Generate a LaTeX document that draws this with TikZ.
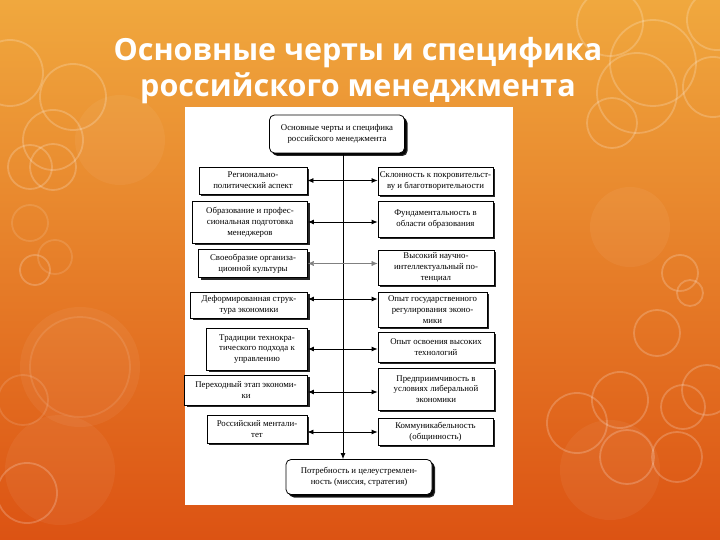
\documentclass[tikz,border=0pt]{standalone}
\usepackage{fontspec}
\setmainfont{Liberation Serif}
\newfontfamily\titlefont{Open Sans}
\usepackage{tikz}
\usetikzlibrary{shapes,arrows,arrows.meta,positioning,shadows}
\usepackage{xcolor}

\definecolor{slidetop}{HTML}{F0A83E}
\definecolor{slidemid}{HTML}{E8832A}
\definecolor{slidebot}{HTML}{DC5313}

\tikzset{
  itembox/.style={draw, thick, fill=white, align=center, inner sep=1pt,
    font=\fontsize{8.8}{10.8}\selectfont,
    drop shadow={shadow xshift=2pt, shadow yshift=-2pt, fill=black, opacity=0.85}},
  headbox/.style={itembox, rounded corners=5pt,
    drop shadow={shadow xshift=3pt, shadow yshift=-3pt, fill=black, opacity=0.85}},
  ring/.style={draw=white, line width=1.8pt, opacity=0.2},
  blob/.style={fill=white, opacity=0.05},
  link/.style={<->, >={Latex[length=6pt,width=5pt]}, thick}
}

\begin{document}
\begin{tikzpicture}[x=1pt, y=-1pt]
    % background slide
    \shade[top color=slidetop, middle color=slidemid, bottom color=slidebot] (0,0) rectangle (720,540);
    \useasboundingbox (0,0) rectangle (720,540);

    \fill[blob] (80,367) circle[radius=60pt];
    \fill[blob] (60,470) circle[radius=55pt];
    \fill[blob] (630,227) circle[radius=40pt];
    \fill[blob] (120,140) circle[radius=45pt];
    \fill[blob] (610,470) circle[radius=50pt];

    \draw[ring] (10,73) circle[radius=33pt];
    \draw[ring] (73,97) circle[radius=33pt];
    \draw[ring] (53,140) circle[radius=30pt];
    \draw[ring] (30,167) circle[radius=22pt];
    \draw[ring] (53,167) circle[radius=23pt];
    \draw[ring, opacity=0.12] (30,223) circle[radius=18pt];
    \draw[ring, opacity=0.12] (55,257) circle[radius=17pt];
    \draw[ring] (35,270) circle[radius=15pt];
    \draw[ring, opacity=0.1] (80,367) circle[radius=50pt];
    \draw[ring, opacity=0.12] (23,400) circle[radius=25pt];
    \draw[ring] (27,493) circle[radius=30pt];
    \draw[ring] (610,23) circle[radius=33pt];
    \draw[ring] (653,63) circle[radius=43pt];
    \draw[ring] (637,93) circle[radius=40pt];
    \draw[ring] (612,123) circle[radius=25pt];
    \draw[ring] (713,87) circle[radius=30pt];
    \draw[ring] (717,20) circle[radius=30pt];
    \draw[ring] (680,273) circle[radius=18pt];
    \draw[ring] (690,293) circle[radius=13pt];
    \draw[ring] (657,333) circle[radius=23pt];
    \draw[ring] (620,400) circle[radius=28pt];
    \draw[ring] (577,423) circle[radius=30pt];
    \draw[ring] (627,457) circle[radius=27pt];
    \draw[ring] (677,457) circle[radius=25pt];
    \draw[ring] (683,407) circle[radius=22pt];
    \draw[ring] (707,390) circle[radius=25pt];

    % slide title
    \node[text=white, font=\titlefont\bfseries\fontsize{30.5}{36}\selectfont, align=center] (title) at (358,71)
        {Основные черты и специфика\\российского менеджмента};

    % scanned scheme
    \fill[white] (185,107) rectangle (513,505);

    \node[headbox, minimum width=135pt, minimum height=38pt] (top) at (337,134)
        {Основные черты и специфика\\российского менеджмента};

    \node[itembox, minimum width=108pt, minimum height=27pt] (l1) at (253,180.5) {Регионально-\\политический аспект};
    \node[itembox, minimum width=115pt, minimum height=42pt] (l2) at (250,222) {Образование и профес-\\сиональная подготовка\\менеджеров};
    \node[itembox, minimum width=109pt, minimum height=28pt] (l3) at (253,263.5) {Своеобразие организа-\\ционной культуры};
    \node[itembox, minimum width=117pt, minimum height=26pt] (l4) at (249,305) {Деформированная струк-\\тура экономики};
    \node[itembox, minimum width=101pt, minimum height=42pt] (l5) at (257,349) {Традиции технокра-\\тического подхода к\\управлению};
    \node[itembox, minimum width=123pt, minimum height=30pt] (l6) at (246,390) {Переходный этап экономи-\\ки};
    \node[itembox, minimum width=100pt, minimum height=28pt] (l7) at (257,429) {Российский ментали-\\тет};

    \node[itembox, minimum width=115pt, minimum height=28pt] (r1) at (435.5,181) {Склонность к покровительст-\\ву и благотворительности};
    \node[itembox, minimum width=115pt, minimum height=36pt] (r2) at (435.5,219) {Фундаментальность в\\области образования};
    \node[itembox, minimum width=116pt, minimum height=35pt] (r3) at (436,267.5) {Высокий научно-\\интеллектуальный по-\\тенциал};
    \node[itembox, minimum width=109pt, minimum height=35pt] (r4) at (432.5,309.5) {Опыт государственного\\регулирования эконо-\\мики};
    \node[itembox, minimum width=116pt, minimum height=30pt] (r5) at (436,347) {Опыт освоения высоких\\технологий};
    \node[itembox, minimum width=116pt, minimum height=42pt] (r6) at (436,389) {Предприимчивость в\\условиях либеральной\\экономики};
    \node[itembox, minimum width=115pt, minimum height=27pt] (r7) at (435.5,431.5) {Коммуникабельность\\(общинность)};

    \node[headbox, minimum width=146pt, minimum height=35pt] (goal) at (359,477)
        {Потребность и целеустремлен-\\ность (миссия, стратегия)};

    % spine and links
    \coordinate (spine) at (343,0);
    \draw[-{Latex[length=6pt,width=5pt]}, thick] (top.south -| spine) -- (goal.north -| spine);

    \draw[link] (l1.east) -- (l1.east -| r1.west);
    \draw[link] (l2.east) -- (l2.east -| r2.west);
    \draw[link, gray, thin] (l3.east) -- (l3.east -| r3.west);
    \draw[link] ([yshift=6pt]l4.east) -- ([yshift=6pt]l4.east -| r4.west);
    \draw[link] (l5.east) -- (l5.east -| r5.west);
    \draw[link] ([yshift=-2pt]l6.east) -- ([yshift=-2pt]l6.east -| r6.west);
    \draw[link] ([yshift=-3pt]l7.east) -- ([yshift=-3pt]l7.east -| r7.west);
\end{tikzpicture}
\end{document}
